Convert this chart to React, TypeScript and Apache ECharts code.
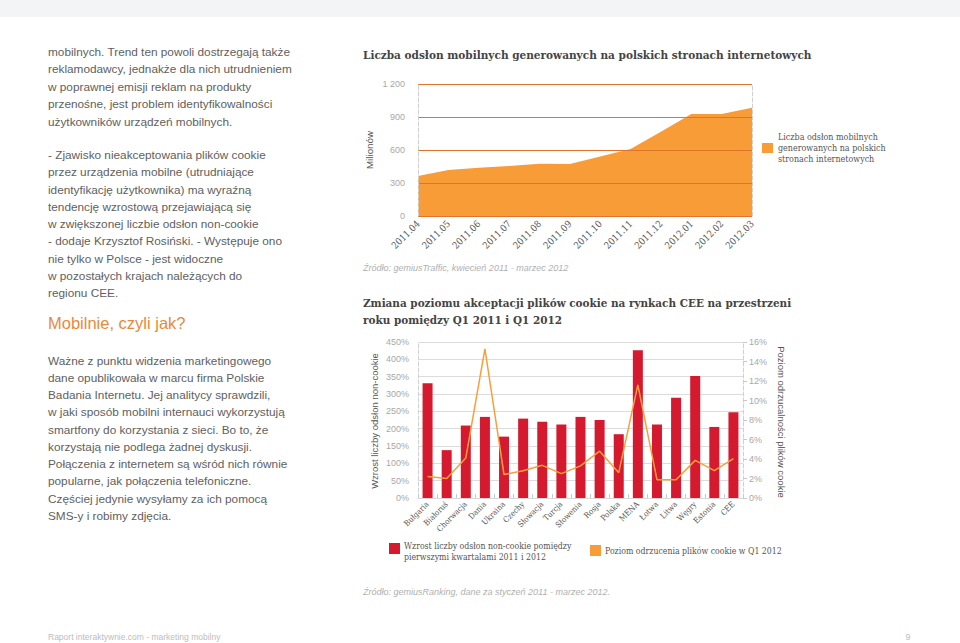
import React, { useEffect, useRef } from "react";
import * as echarts from "echarts";

// ---------- data ----------
const months = ["2011.04", "2011.05", "2011.06", "2011.07", "2011.08", "2011.09", "2011.10", "2011.11", "2011.12", "2012.01", "2012.02", "2012.03"];
const mobilePageViews = [364, 418, 439, 455, 476, 473, 542, 609, 767, 927, 927, 985];
const pvMax = 1200;
const pvInterval = 300;

const markets = ["Bułgaria", "Białoruś", "Chorwacja", "Dania", "Ukraina", "Czechy", "Słowacja", "Turcja", "Słowenia", "Rosja", "Polska", "MENA", "Łotwa", "Litwa", "Węgry", "Estonia", "CEE"];
const nonCookieGrowth = [331, 138, 209, 234, 177, 229, 220, 212, 234, 225, 184, 426, 212, 289, 352, 205, 247];
const cookieRejection = [2.2, 2.0, 4.1, 15.3, 2.4, 2.8, 3.35, 2.5, 3.3, 4.8, 2.6, 11.6, 1.88, 1.88, 3.86, 2.8, 4.05];
const growthMax = 450;
const growthInterval = 50;
const rejectMax = 16;
const rejectInterval = 2;

const para1 = [
  "mobilnych. Trend ten powoli dostrzegają także",
  "reklamodawcy, jednakże dla nich utrudnieniem",
  "w poprawnej emisji reklam na produkty",
  "przenośne, jest problem identyfikowalności",
  "użytkowników urządzeń mobilnych.",
];
const para2 = [
  "- Zjawisko nieakceptowania plików cookie",
  "przez urządzenia mobilne (utrudniające",
  "identyfikację użytkownika) ma wyraźną",
  "tendencję wzrostową przejawiającą się",
  "w zwiększonej liczbie odsłon non-cookie",
  "- dodaje Krzysztof Rosiński. - Występuje ono",
  "nie tylko w Polsce - jest widoczne",
  "w pozostałych krajach należących do",
  "regionu CEE.",
];
const heading = "Mobilnie, czyli jak?";
const para3 = [
  "Ważne z punktu widzenia marketingowego",
  "dane opublikowała w marcu firma Polskie",
  "Badania Internetu. Jej analitycy sprawdzili,",
  "w jaki sposób mobilni internauci wykorzystują",
  "smartfony do korzystania z sieci. Bo to, że",
  "korzystają nie podlega żadnej dyskusji.",
  "Połączenia z internetem są wśród nich równie",
  "popularne, jak połączenia telefoniczne.",
  "Częściej jedynie wysyłamy za ich pomocą",
  "SMS-y i robimy zdjęcia.",
];

const title1 = "Liczba odsłon mobilnych generowanych na polskich stronach internetowych";
const title2 = ["Zmiana poziomu akceptacji plików cookie na rynkach CEE na przestrzeni", "roku pomiędzy Q1 2011 i Q1 2012"];
const legend1 = ["Liczba odsłon mobilnych", "generowanych na polskich", "stronach internetowych"];
const legend2a = ["Wzrost liczby odsłon non-cookie pomiędzy", "pierwszymi kwartalami 2011 i 2012"];
const legend2b = "Poziom odrzucenia plików cookie w Q1 2012";
const source1 = "Źródło: gemiusTraffic, kwiecień 2011 - marzec 2012";
const source2 = "Źródło: gemiusRanking, dane za styczeń 2011 - marzec 2012.";
const footer = "Raport interaktywnie.com - marketing mobilny";
const pageNo = "9";

// ---------- styles ----------
const SANS = '"Liberation Sans", Arial, sans-serif';
const SERIF = '"DejaVu Serif Condensed", "DejaVu Serif", serif';
const TEXT = "#606060";
const ORANGE_AREA = "#f89c38";
const ORANGE_GRID = "#e2732b";
const RED = "#d5192e";
const ORANGE_LINE = "#f6a03c";

function lines(arr: string[], x: number, y0: number, step: number, style: any) {
  return arr.map((t, i) => ({
    type: "text",
    x,
    y: y0 + i * step,
    silent: true,
    style: { text: t, verticalAlign: "middle", ...style },
  }));
}

export default function App() {
  const ref = useRef<HTMLDivElement>(null);
  useEffect(() => {
    if (!ref.current) return;
    document.body.style.margin = "0";
    const chart = echarts.init(ref.current, undefined, { renderer: "svg" });
    const bodyStyle = { fontFamily: SANS, fontSize: 11.8, fill: TEXT };
    const option: any = {
      animation: false,
      grid: [
        { left: 418, top: 84, width: 334, height: 132 },
        { left: 418, top: 342, width: 325, height: 156 },
      ],
      xAxis: [
        {
          gridIndex: 0,
          type: "category",
          data: months,
          boundaryGap: false,
          axisLine: { show: false },
          axisTick: { show: false },
          splitLine: { show: false },
          axisLabel: { rotate: 45, fontSize: 9.5, color: "#555", margin: 6, interval: 0, fontFamily: SERIF },
        },
        {
          gridIndex: 1,
          type: "category",
          data: markets,
          boundaryGap: true,
          axisLine: { show: true, lineStyle: { color: "#d8d8d8" } },
          axisTick: { show: true, inside: true, length: 5, lineStyle: { color: "#c8c8c8", type: "dashed" } },
          axisLabel: { rotate: 45, fontSize: 8, color: "#555", margin: 5, interval: 0, fontFamily: SERIF },
        },
      ],
      yAxis: [
        {
          gridIndex: 0,
          type: "value",
          min: 0,
          max: pvMax,
          interval: pvInterval,
          z: 3,
          axisLine: { show: true, lineStyle: { color: "#cfcfcf", type: "dashed" } },
          axisTick: { show: false },
          axisLabel: {
            color: "#a8a8a8",
            fontSize: 9,
            margin: 13,
            fontFamily: SANS,
            formatter: (v: number) => String(v).replace(/\B(?=(\d{3})+(?!\d))/g, " "),
          },
          splitLine: { show: true, lineStyle: { color: ORANGE_GRID, width: 1.2 } },
        },
        {
          gridIndex: 0,
          type: "value",
          position: "right",
          min: 0,
          max: pvMax,
          interval: pvInterval,
          axisLine: { show: true, lineStyle: { color: "#cfcfcf", type: "dashed" } },
          axisTick: { show: false },
          axisLabel: { show: false },
          splitLine: { show: false },
        },
        {
          gridIndex: 1,
          type: "value",
          min: 0,
          max: growthMax,
          interval: growthInterval,
          axisLine: { show: true, lineStyle: { color: "#d0d0d0", type: "dashed" } },
          axisTick: { show: false },
          axisLabel: { color: "#a8a8a8", fontSize: 9, margin: 9, fontFamily: SANS, formatter: "{value}%" },
          splitLine: { show: true, lineStyle: { color: "#dcdcdc", width: 1 } },
        },
        {
          gridIndex: 1,
          type: "value",
          position: "right",
          min: 0,
          max: rejectMax,
          interval: rejectInterval,
          axisLine: { show: true, lineStyle: { color: "#d0d0d0", type: "dashed" } },
          axisTick: { show: true, length: 4, lineStyle: { color: "#c8c8c8" } },
          axisLabel: { color: "#a8a8a8", fontSize: 9, margin: 6, fontFamily: SANS, formatter: "{value}%" },
          splitLine: { show: false },
        },
      ],
      series: [
        {
          type: "line",
          name: legend1.join(" "),
          xAxisIndex: 0,
          yAxisIndex: 0,
          data: mobilePageViews,
          symbol: "none",
          lineStyle: { width: 0 },
          areaStyle: { color: ORANGE_AREA, opacity: 1 },
          z: 2,
        },
        {
          type: "bar",
          name: legend2a.join(" "),
          xAxisIndex: 1,
          yAxisIndex: 2,
          data: nonCookieGrowth,
          barWidth: 10,
          itemStyle: { color: RED },
        },
        {
          type: "line",
          name: legend2b,
          xAxisIndex: 1,
          yAxisIndex: 3,
          data: cookieRejection,
          symbol: "none",
          lineStyle: { color: ORANGE_LINE, width: 1.5 },
          z: 4,
        },
      ],
      graphic: [
        { type: "rect", silent: true, shape: { x: 0, y: 0, width: 960, height: 17 }, style: { fill: "#f3f4f6" } },
        ...lines(para1, 48, 52, 17.4, bodyStyle),
        ...lines(para2, 48, 155, 17.25, bodyStyle),
        { type: "text", x: 48, y: 323, style: { text: heading, fontFamily: SANS, fontSize: 16.5, fill: "#e8893a", verticalAlign: "middle" } },
        ...lines(para3, 48, 360.5, 17.25, bodyStyle),
        // chart 1
        { type: "text", x: 363, y: 55, style: { text: title1, fontFamily: SERIF, fontSize: 11.7, fontWeight: "bold", fill: "#444", verticalAlign: "middle" } },
        { type: "text", x: 369, y: 150, rotation: Math.PI / 2, style: { text: "Milionów", fontFamily: SANS, fontSize: 9.8, fill: "#555", align: "center", verticalAlign: "middle" } },
        { type: "rect", shape: { x: 762, y: 143, width: 11, height: 10 }, style: { fill: ORANGE_AREA } },
        ...lines(legend1, 778, 136.5, 11.2, { fontFamily: SERIF, fontSize: 8.9, fill: "#555" }),
        { type: "text", x: 363, y: 268, style: { text: source1, fontFamily: SANS, fontSize: 9, fontStyle: "italic", fill: "#b0b0b0", verticalAlign: "middle" } },
        // chart 2
        ...lines(title2, 363, 303, 17, { fontFamily: SERIF, fontSize: 11.6, fontWeight: "bold", fill: "#444" }),
        { type: "text", x: 374, y: 421, rotation: Math.PI / 2, style: { text: "Wzrost liczby odsłon non-cookie", fontFamily: SANS, fontSize: 9.5, fill: "#555", align: "center", verticalAlign: "middle" } },
        { type: "text", x: 781, y: 422, rotation: -Math.PI / 2, style: { text: "Poziom odrzucalności plików cookie", fontFamily: SANS, fontSize: 9.5, fill: "#555", align: "center", verticalAlign: "middle" } },
        { type: "rect", shape: { x: 389, y: 543, width: 11, height: 11 }, style: { fill: RED } },
        ...lines(legend2a, 404, 545.5, 11.5, { fontFamily: SERIF, fontSize: 8.7, fill: "#555" }),
        { type: "rect", shape: { x: 590, y: 545, width: 11, height: 11 }, style: { fill: ORANGE_AREA } },
        { type: "text", x: 605, y: 550.5, style: { text: legend2b, fontFamily: SERIF, fontSize: 8.7, fill: "#555", verticalAlign: "middle" } },
        { type: "text", x: 363, y: 592, style: { text: source2, fontFamily: SANS, fontSize: 9, fontStyle: "italic", fill: "#b0b0b0", verticalAlign: "middle" } },
        // footer
        { type: "text", x: 48, y: 637, style: { text: footer, fontFamily: SANS, fontSize: 8.5, fill: "#bdbdbd", verticalAlign: "middle" } },
        { type: "text", x: 908, y: 637, style: { text: pageNo, fontFamily: SANS, fontSize: 9, fill: "#bdbdbd", align: "center", verticalAlign: "middle" } },
      ],
    };
    chart.setOption(option);
    return () => chart.dispose();
  }, []);
  return <div ref={ref} style={{ position: "absolute", left: 0, top: 0, width: 960, height: 643, background: "#fff" }} />;
}
